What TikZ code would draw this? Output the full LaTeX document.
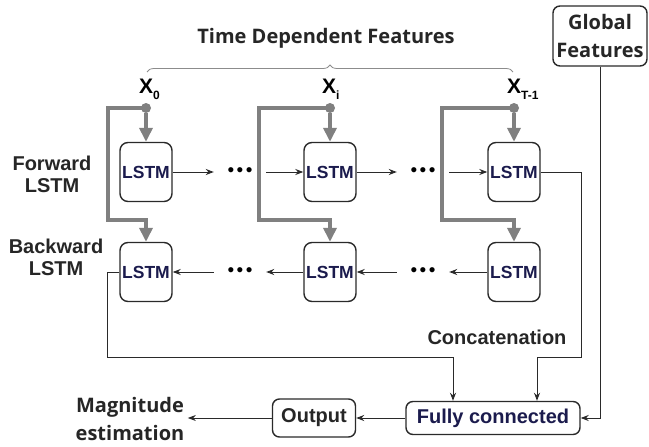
\documentclass[tikz,border=0pt]{standalone}
\usepackage{fontspec}
\setmainfont{Liberation Sans}
\newfontfamily\opensans{Open Sans}
\usetikzlibrary{arrows.meta,positioning,calc,decorations.pathreplacing}
\definecolor{navy}{HTML}{1B1B4D}
\definecolor{feedgray}{HTML}{808080}
\definecolor{ink}{HTML}{2A2A2A}

\begin{document}
\begin{tikzpicture}[x=1pt,y=-1pt,
  cell/.style={draw=ink,line width=1.4pt,rounded corners=8pt,minimum width=52pt,minimum height=59pt,inner sep=0pt,font=\fontsize{17.5}{17.5}\selectfont\bfseries,text=navy},
  box/.style={draw=ink,line width=1.4pt,rounded corners=7pt,inner sep=0pt},
  dots/.style={minimum width=52pt,inner sep=0pt,font=\fontsize{19}{19}\selectfont},
  lbl/.style={font=\fontsize{20}{22}\selectfont\bfseries,text=black!85,align=center},
  olbl/.style={font=\opensans\fontsize{20}{28}\selectfont\bfseries,text=black!85,align=center},
  xlab/.style={font=\fontsize{21}{21}\selectfont\bfseries,inner sep=0pt,anchor=base west},
  feed/.style={draw=feedgray,line width=3.5pt,-{Triangle[length=14pt,width=13pt]}},
  conn/.style={draw=ink,line width=1pt,-{Stealth[length=8pt,width=6pt]}},
  src/.style={circle,fill=feedgray,inner sep=0pt,minimum size=10pt}]
  \path[fill=white] (0,0) rectangle (649,447);

  \node[olbl] (tdf) at (326,38) {Time Dependent Features};
  \draw[decorate,decoration={brace,amplitude=7pt},draw=black!45,line width=0.8pt] (147,72) -- (513,72);
  \node[box,olbl,minimum width=94pt,minimum height=60pt] (gf) at (600,36) {Global\\Features};

  \node[xlab] (x0) at (139,93) {X\raisebox{-6pt}{\fontsize{12}{12}\selectfont 0}};
  \node[xlab] (xi) at (322,93) {X\raisebox{-6pt}{\fontsize{12}{12}\selectfont i}};
  \node[xlab] (xt) at (507,93) {X\raisebox{-6pt}{\fontsize{12}{12}\selectfont T-1}};
  \node[src] (p0) at (146,108) {};
  \node[src] (pi) at (330,108) {};
  \node[src] (pt) at (514,108) {};

  \node[lbl] (fwd) at (52,174) {Forward\\LSTM};
  \node[lbl] (bwd) at (56,257) {Backward\\LSTM};

  \node[cell] (f0) at (146,172) {LSTM};
  \node[cell] (fi) at (330,172) {LSTM};
  \node[cell] (ft) at (514,172) {LSTM};
  \node[cell] (b0) at (146,272) {LSTM};
  \node[cell] (bi) at (330,272) {LSTM};
  \node[cell] (bt) at (514,272) {LSTM};
  \node[dots] (df1) at (240,172) {\textbullet\kern2.5pt\textbullet\kern2.5pt\textbullet};
  \node[dots] (df2) at (423,172) {\textbullet\kern2.5pt\textbullet\kern2.5pt\textbullet};
  \node[dots] (db1) at (240,272) {\textbullet\kern2.5pt\textbullet\kern2.5pt\textbullet};
  \node[dots] (db2) at (423,272) {\textbullet\kern2.5pt\textbullet\kern2.5pt\textbullet};

  \node[lbl] (cat) at (497,337) {Concatenation};
  \node[box,lbl,text=navy,minimum width=174pt,minimum height=33pt] (fc) at (493,418) {Fully connected};
  \node[box,lbl,minimum width=83pt,minimum height=38pt] (out) at (314,418) {Output};
  \node[olbl] (mag) at (130,419) {Magnitude\\estimation};

  \draw[feed] (p0) -- (f0);
  \draw[feed] (pi) -- (fi);
  \draw[feed] (pt) -- (ft);
  \draw[feed] (p0.center) -- ++(-38,0) -- ++(0,112) -| (b0.north);
  \draw[feed] (pi.center) -- ++(-71,0) -- ++(0,112) -| (bi.north);
  \draw[feed] (pt.center) -- ++(-72,0) -- ++(0,112) -| (bt.north);

  \draw[conn] (f0) -- (df1);
  \draw[conn] (df1) -- (fi);
  \draw[conn] (fi) -- (df2);
  \draw[conn] (df2) -- (ft);
  \draw[conn] (bt) -- (db2);
  \draw[conn] (db2) -- (bi);
  \draw[conn] (bi) -- (db1);
  \draw[conn] (db1) -- (b0);

  \draw[conn] (ft.east) -| ++(41,185) -| ([xshift=44pt]fc.north);
  \draw[conn] (b0.west) -| ++(-12,85) -| ([xshift=-40pt]fc.north);
  \draw[conn] (gf.south) |- (fc.east);
  \draw[conn] (fc.west) -- (out.east);
  \draw[conn] (out.west) -- (out.west -| mag.east);
\end{tikzpicture}
\end{document}
